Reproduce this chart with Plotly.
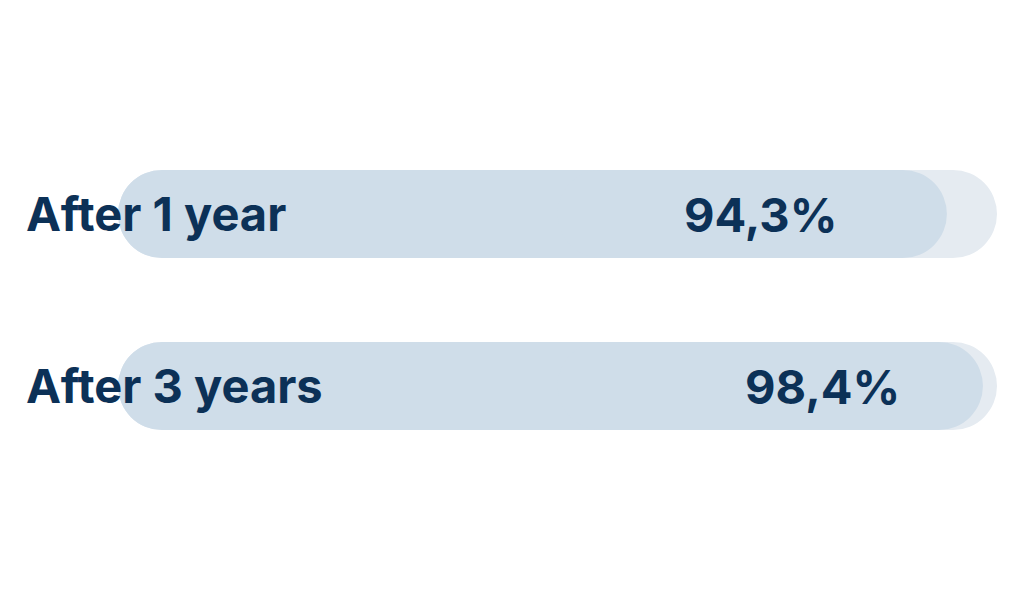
import plotly.graph_objects as go

# ---- data ----
categories = ["After 1 year", "After 3 years"]
values = [94.3, 98.4]
value_labels = ["94,3%", "98,4%"]
track_max = 100

# ---- style ----
bar_color = "#cfdde9"
track_color = "#e5ebf1"
text_color = "#0c3157"
font_family = "Inter"
value_label_x = [73.15, 80.2]   # centre of value label (axis units)
split_left = 60   # left half drawn 0..split_left
split_right = 50  # right half drawn split_right..end
bar_w = 0.512

fig = go.Figure()

def pill(vals, color):
    # left half, rounded at left end (negative length from base)
    fig.add_trace(go.Bar(
        y=categories, x=[-split_left] * len(vals), base=[split_left] * len(vals),
        orientation="h", width=bar_w, marker=dict(color=color, cornerradius="50%", line=dict(width=0)),
        hoverinfo="skip", showlegend=False))
    # right half, rounded at right end
    fig.add_trace(go.Bar(
        y=categories, x=[v - split_right for v in vals], base=[split_right] * len(vals),
        orientation="h", width=bar_w, marker=dict(color=color, cornerradius="50%", line=dict(width=0)),
        hoverinfo="skip", showlegend=False))

pill([track_max] * len(categories), track_color)
pill(values, bar_color)

for cat, lab, vx in zip(categories, value_labels, value_label_x):
    fig.add_annotation(x=0, y=cat, xref="x", yref="y", text=cat, showarrow=False,
                       xanchor="left", xshift=-94, yshift=1,
                       font=dict(family=font_family, size=47, color=text_color, weight=700))
    fig.add_annotation(x=vx, y=cat, xref="x", yref="y", text=lab, showarrow=False,
                       xanchor="center", yshift=0,
                       font=dict(family=font_family, size=47, color=text_color, weight=700))

fig.update_layout(
    width=1024, height=600,
    margin=dict(l=110, r=35, t=120, b=136),
    barmode="overlay",
    paper_bgcolor="white", plot_bgcolor="white",
    xaxis=dict(range=[0, track_max], visible=False, fixedrange=True),
    yaxis=dict(categoryorder="array", categoryarray=categories, autorange="reversed",
               visible=False, fixedrange=True),
)

fig.write_html("out.html", config={"displayModeBar": False})
